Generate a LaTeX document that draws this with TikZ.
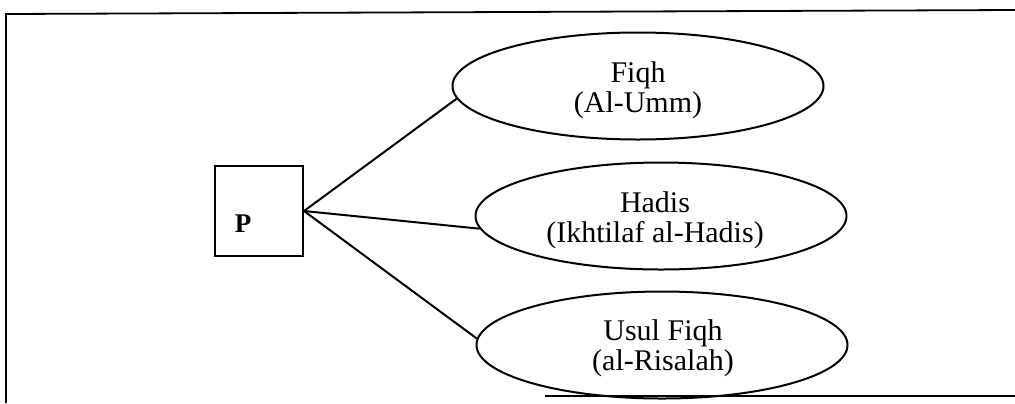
\documentclass[tikz,border=0pt]{standalone}
\usepackage{fontspec}
\setmainfont{Liberation Serif}
\usetikzlibrary{shapes.geometric}

\begin{document}
\begin{tikzpicture}[x=0.5pt,y=-0.5pt,auto,
  main node/.style={ellipse,draw,line width=1pt,inner sep=0pt,minimum width=185.5pt,minimum height=53.5pt},
  name node/.style={align=center,font=\fontsize{15}{15}\selectfont}]
  \useasboundingbox (0,0) rectangle (1015,403);
  % frame
  \draw[line width=0.9pt] (6,403) -- (6,14) -- (1015,10);
  \draw[line width=0.9pt] (545,396) -- (1015,396);

  \node[draw,line width=1pt,minimum width=44pt,minimum height=45pt,inner sep=0pt] (p) at (259,211) {};
  \node[font=\fontsize{13.5}{13.5}\selectfont\bfseries] (p label) at (243,224) {P};

  \node[main node] (fiqh) at (638,86) {};
  \node[main node] (hadis) at (661,216) {};
  \node[main node] (usul) at (662,345) {};

  \node[name node] (fiqh text) at (638,90) {Fiqh\\(Al-Umm)};
  \node[name node] (hadis text) at (655,220) {Hadis\\(Ikhtilaf al-Hadis)};
  \node[name node] (usul text) at (663,348) {Usul Fiqh\\(al-Risalah)};

  \path[line width=1pt]
    (p.east) edge (fiqh.184)
    (p.east) edge (hadis.184)
    (p.east) edge (usul.178);
\end{tikzpicture}
\end{document}
